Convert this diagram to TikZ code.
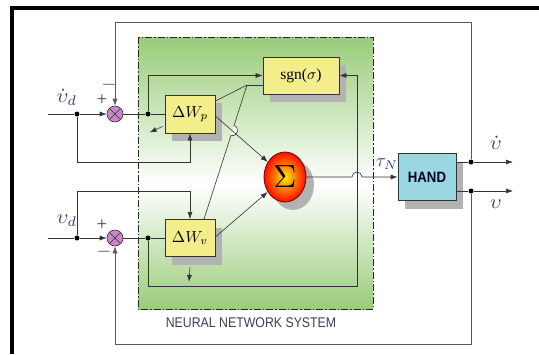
\documentclass[tikz,border=0pt]{standalone}
\usepackage{fontspec}
\setmainfont{Liberation Serif}
\setsansfont{Liberation Sans}
\usetikzlibrary{arrows.meta,shapes.geometric,shadows,calc}
\definecolor{boxy}{HTML}{F3EE8A}
\definecolor{handc}{HTML}{9AD7E1}
\definecolor{junc}{HTML}{CC85C8}
\definecolor{nng}{HTML}{98CC78}
\definecolor{lbl}{HTML}{2B3A6B}
\definecolor{nnt}{HTML}{3A3F5C}
\begin{document}
\begin{tikzpicture}[x=1pt,y=-1pt,
  line/.style={draw=black!80, line width=0.6pt},
  arr/.style={line, -{Latex[length=7pt,width=5pt]}},
  fb/.style={draw=black!65, line width=0.6pt},
  fbarr/.style={fb, -{Latex[length=7pt,width=5pt]}},
  blk/.style={draw=black!80, line width=0.8pt, fill=boxy, inner sep=0pt,
    general shadow={fill=black!30, shadow xshift=7pt, shadow yshift=-8pt}},
  dotn/.style={circle, fill=black, inner sep=0pt, minimum size=5pt},
  sumj/.style={circle, draw=black!80, fill=junc, minimum size=16pt, inner sep=0pt, line width=0.6pt,
    path picture={\draw[black!80, line width=0.6pt] (path picture bounding box.north west) -- (path picture bounding box.south east)
      (path picture bounding box.north east) -- (path picture bounding box.south west);}},
  lab/.style={text=lbl, inner sep=0pt, font=\fontsize{10}{12}\selectfont},
  txt/.style={inner sep=0pt, font=\fontsize{10}{12}\selectfont},
  sg/.style={text=black!75, inner sep=0pt, font=\fontsize{10}{12}\selectfont, scale=1.9}
]
\fill[white] (0,0) rectangle (539,354);
\useasboundingbox (0,0) rectangle (539,354);
% neural network region
\shade[top color=nng, bottom color=white] (138,37) rectangle (373,185);
\shade[top color=white, bottom color=nng] (138,185) rectangle (373,309);
\draw[black!85, line width=0.9pt, dash pattern=on 7pt off 2pt on 1.5pt off 2pt] (138,37) rectangle (373,309);
\node[text=nnt, font=\sffamily\fontsize{14}{14}\selectfont, xscale=0.88, inner sep=0pt] (nnlabel) at (251,323) {NEURAL NETWORK SYSTEM};
% outer frame
\draw[line width=4pt] (12,354) -- (12,8) -- (539,8);

% nodes
\node[sumj] (j1) at (115,114) {};
\node[sumj] (j2) at (115,238) {};
\node[dotn] (d1) at (77,114) {};
\node[dotn] (d2) at (77,238) {};
\node[dotn] (d3) at (148,114) {};
\node[dotn] (d4) at (148,238) {};
\node[blk, minimum width=50pt, minimum height=38pt] (wp) at (190,114) {};
\node[txt, scale=1.6] (wpt) at (wp) {$\Delta W_p$};
\node[blk, minimum width=50pt, minimum height=37pt] (wv) at (190,238) {};
\node[txt, scale=1.6] (wvt) at (wv) {$\Delta W_v$};
\node[blk, minimum width=76pt, minimum height=37pt] (sgn) at (301,75.5) {};
\node[txt, scale=1.55] (sgnt) at (sgn) {sgn($\sigma$)};
\node[ellipse, draw=red!45!black, line width=0.8pt, minimum width=42pt, minimum height=50pt, inner sep=0pt,
  inner color=yellow!85!orange, outer color=red!90!orange,
  general shadow={fill=black!30, shadow xshift=8pt, shadow yshift=-8pt}] (sum) at (285,177) {};
\node[txt, scale=3.2] (sumt) at (sum) {$\Sigma$};
\node[draw=black!80, line width=0.8pt, fill=handc, minimum width=58pt, minimum height=47pt, inner sep=0pt,
  general shadow={fill=black!30, shadow xshift=7pt, shadow yshift=-8pt}] (hand) at (427,177) {};
\node[font=\sffamily\bfseries\fontsize{15}{15}\selectfont, text=black!85!blue, xscale=0.88, inner sep=0pt] (handtext) at (hand) {HAND};
\node[dotn] (o1) at (471,162) {};
\node[dotn] (o2) at (471,191) {};
\coordinate (in1) at (48,114);
\coordinate (in2) at (48,238);
\coordinate (out1) at (513,162);
\coordinate (out2) at (513,191);
\coordinate (hub) at (247,85);

% feedback lines
\draw[fbarr] (o1) -- (471,22) -- (115,22) -- (j1.north);
\draw[fbarr] (o2) -- (471,344) -- (115,344) -- (j2.south);

% upper channel
\draw[line] (in1) -- (d1);
\draw[arr] (d1) -- (j1.west);
\draw[arr] (d1) -- (77,162) -- (190,162) -- (wp.south);
\draw[line] (j1.east) -- (d3) -- (wp.west);
\draw[arr] (d3) -- (148,75.5) -- (sgn.west);
% lower channel
\draw[line] (in2) -- (d2);
\draw[arr] (d2) -- (j2.west);
\draw[arr] (d2) -- (77,191) -- (190,191) -- (wv.north);
\draw[line] (j2.east) -- (d4) -- (wv.west);
\draw[arr] (d4) -- (148,286) -- (357,286) -- (357,75.5) -- (sgn.east);

% hub lines
\draw[line] ($(wp.east)+(0,-13)$) -- (hub);
\draw[line] ($(sgn.west)+(0,9.5)$) -- (hub);
\fill[white] (234.0,125.7) .. controls (240.4,127.7) and (237.4,137.3) .. (231.0,135.3) -- cycle;
\draw[arr] ($(wp.east)+(0,2)$) -- (sum);
\draw[line] (hub) -- (234.0,125.7) .. controls (240.4,127.7) and (237.4,137.3) .. (231.0,135.3) -- ($(wv.north)+(14,0)$);
\draw[arr] ($(wv.east)+(0,-1)$) -- (sum);
% learning arrows
\draw[arr] ($(wp.south west)+(-2,-7)$) -- +(-13,6);
\draw[arr] ($(wv.south)+(0,10)$) -- +(-1,15);

% sum to hand
\draw[arr] (sum.east) -- (352,177) arc[start angle=180, end angle=360, radius=5] -- (hand.west);
% outputs
\draw[line] ($(hand.east)+(0,-15)$) -- (o1);
\draw[arr] (o1) -- (out1);
\draw[line] ($(hand.east)+(0,14)$) -- (o2);
\draw[arr] (o2) -- (out2);

% labels
\node[lab, scale=2] (lvd1) at (67,97) {$\dot{\upsilon}_d$};
\node[lab, scale=2] (lvd2) at (67,221) {$\upsilon_d$};
\node[sg] (p1) at (102,100) {+};
\node[sg] (m1) at (109,85) {$-$};
\node[sg] (p2) at (102,225) {+};
\node[sg] (m2) at (104,252) {$-$};
\node[lab, scale=1.8] (ltau) at (387,164) {$\tau_N$};
\node[lab, scale=2] (lo1) at (496,143) {$\dot{\upsilon}$};
\node[lab, scale=2] (lo2) at (496,204) {$\upsilon$};
\end{tikzpicture}
\end{document}
